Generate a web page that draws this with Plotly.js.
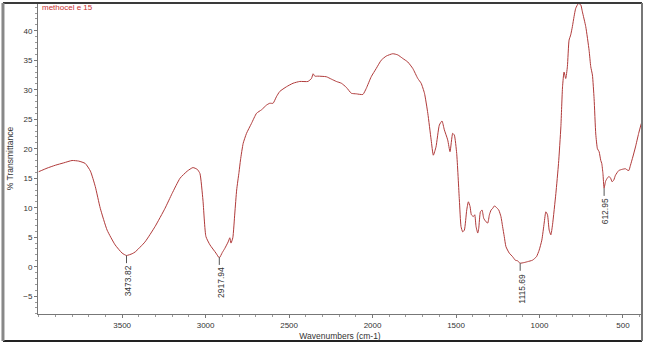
<!DOCTYPE html>
<html>
<head>
<meta charset="utf-8">
<script src="https://cdn.plot.ly/plotly-3.0.1.min.js"></script>
<style>html,body{margin:0;padding:0;background:#fff;}#chart{width:649px;height:350px;}</style>
</head>
<body>
<div id="chart"></div>
<script>
const wavenumbers = [4000,3950,3900,3850,3800,3760,3721,3690,3661,3631,3590,3542,3500,3474,3440,3422,3363,3303,3243,3201,3153,3110,3076,3050,3034,3016,2998,2974,2938,2918,2900,2885,2865,2855,2848,2837,2825,2814,2800,2791,2775,2755,2725,2695,2665,2635,2616,2596,2576,2556,2516,2476,2436,2387,2366,2356,2346,2327,2277,2247,2217,2187,2157,2127,2097,2058,2038,2008,1978,1948,1918,1879,1849,1819,1789,1759,1729,1709,1689,1669,1649,1636,1620,1600,1584,1570,1550,1536,1520,1510,1496,1480,1470,1460,1450,1436,1426,1416,1408,1396,1388,1380,1370,1364,1354,1344,1334,1320,1310,1300,1290,1280,1270,1260,1244,1231,1221,1211,1201,1181,1161,1145,1132,1116,1092,1072,1042,1018,1002,986,972,962,952,942,932,922,902,886,872,862,853,843,833,823,813,803,793,783,767,753,743,723,703,693,683,673,663,653,643,633,627,620,613,604,594,584,574,565,555,545,525,505,485,475,465,455,441,425,406,390];
const transmittance = [16.1,16.7,17.2,17.6,18.0,17.9,17.5,16.2,13.6,9.9,6.2,3.7,2.3,1.9,2.2,2.5,4.2,6.8,9.9,12.4,15.0,16.2,16.8,16.5,15.8,11.3,5.1,3.7,2.3,1.5,2.4,3.1,4.2,4.9,4.0,4.9,9.1,13.0,16.0,18.1,20.9,22.6,24.3,26.0,26.6,27.4,27.7,27.7,28.8,29.7,30.5,31.1,31.4,31.4,31.9,32.7,32.3,32.3,32.2,31.8,31.4,31.1,30.4,29.4,29.3,29.2,30.2,32.2,33.6,35.0,35.7,36.1,35.9,35.3,34.7,33.6,31.9,31.1,29.4,26.0,21.5,18.9,20.3,24.0,24.7,23.2,21.5,19.5,22.6,22.3,19.2,11.3,6.8,5.9,6.2,9.6,11.0,10.2,8.8,8.5,8.8,6.8,5.7,6.5,9.3,9.6,8.2,7.6,7.4,8.8,9.6,9.9,10.3,10.1,9.6,8.5,6.8,5.1,3.4,2.3,1.7,1.1,1.0,0.6,0.7,0.85,1.1,1.7,2.8,4.5,7.4,9.3,8.8,6.2,5.4,7.1,12.4,17.5,23.7,30.5,33.0,31.9,33.9,38.4,39.3,40.7,42.4,43.8,44.6,44.4,43.2,40.7,36.7,33.9,32.5,28.5,22.5,20.0,19.5,18.0,17.5,15.8,13.3,14.5,15.0,15.3,15.0,14.4,14.7,15.5,16.3,16.5,16.6,16.4,16.3,17.2,18.6,20.3,22.6,24.3];
const peakPositions = [3473.82, 2917.94, 1115.69, 612.95];
const peakLabels = ["3473.82", "2917.94", "1115.69", "612.95"];
const peakValues = [1.9, 1.6, 0.6, 13.3];
const xTickVals = [3500, 3000, 2500, 2000, 1500, 1000, 500];
const yTickVals = [-5, 0, 5, 10, 15, 20, 25, 30, 35, 40];
const seriesName = "methocel e 15";

const lineColor = "#b03a3a";
const shapes = [];
const annotations = [];
peakPositions.forEach((p, i) => {
  shapes.push({type:"line", xref:"x", yref:"y", x0:p, x1:p, y0:peakValues[i], y1:peakValues[i]-1.3,
    line:{color:"#555", width:1}});
  const len = peakLabels[i].length;
  annotations.push({xref:"x", yref:"y", x:p, y:peakValues[i]-1.5-len*0.4, text:peakLabels[i],
    textangle:-90, showarrow:false, xanchor:"center", yanchor:"middle", xshift:1,
    font:{family:"Liberation Sans, Arial, sans-serif", size:8.5, color:"#333"}});
});
annotations.push({xref:"paper", yref:"paper", x:0.004, y:0.985, xanchor:"left", yanchor:"middle",
  text:seriesName, showarrow:false, font:{family:"Liberation Sans Narrow, Arial Narrow, Liberation Sans, sans-serif", size:8, color:"#c83030"}});

// frame
const fx0 = -0.058, fy0 = -0.087;
shapes.push({type:"line", xref:"paper", yref:"paper", x0:fx0, x1:1.0, y0:1, y1:1, line:{color:"#3a3a3a", width:2}});
shapes.push({type:"line", xref:"paper", yref:"paper", x0:fx0, x1:1.0, y0:fy0, y1:fy0, line:{color:"#222", width:2}});
shapes.push({type:"line", xref:"paper", yref:"paper", x0:fx0, x1:fx0, y0:fy0, y1:1, line:{color:"#888", width:3}});
shapes.push({type:"line", xref:"paper", yref:"paper", x0:1.0, x1:1.0, y0:fy0, y1:1, line:{color:"#777", width:2}});

const tickFont = {family:"Liberation Sans Narrow, Arial Narrow, Liberation Sans, sans-serif", size:8, color:"#333"};

Plotly.newPlot("chart", [{
  x: wavenumbers, y: transmittance, type:"scatter", mode:"lines",
  line:{color:lineColor, width:1, shape:"spline", smoothing:0.5}, hoverinfo:"skip"
}], {
  width:649, height:350,
  margin:{l:38, r:7, t:3, b:36},
  paper_bgcolor:"#fff", plot_bgcolor:"#fff",
  showlegend:false,
  xaxis:{range:[4004, 386], tickvals:xTickVals, ticktext:xTickVals.map(String), showgrid:false, zeroline:false,
    showline:true, linecolor:"#777", linewidth:1, ticks:"outside", ticklen:3, tickcolor:"#777",
    minor:{dtick:100, ticks:"outside", ticklen:2, tickcolor:"#999", showgrid:false},
    tickfont:tickFont,
    title:{text:"Wavenumbers (cm-1)", font:{family:"Liberation Sans Narrow, Arial Narrow, Liberation Sans, sans-serif", size:8.5, color:"#333"}, standoff:4}},
  yaxis:{range:[-8.02, 44.7], tickvals:yTickVals, showgrid:false, zeroline:false,
    showline:true, linecolor:"#777", linewidth:1, ticks:"outside", ticklen:3, tickcolor:"#777",
    minor:{dtick:1, ticks:"outside", ticklen:2, tickcolor:"#999", showgrid:false},
    tickfont:tickFont,
    title:{text:"% Transmittance", font:{family:"Liberation Sans, Arial, sans-serif", size:8.5, color:"#333"}, standoff:8}},
  shapes:shapes, annotations:annotations
}, {staticPlot:true});
</script>
</body>
</html>
